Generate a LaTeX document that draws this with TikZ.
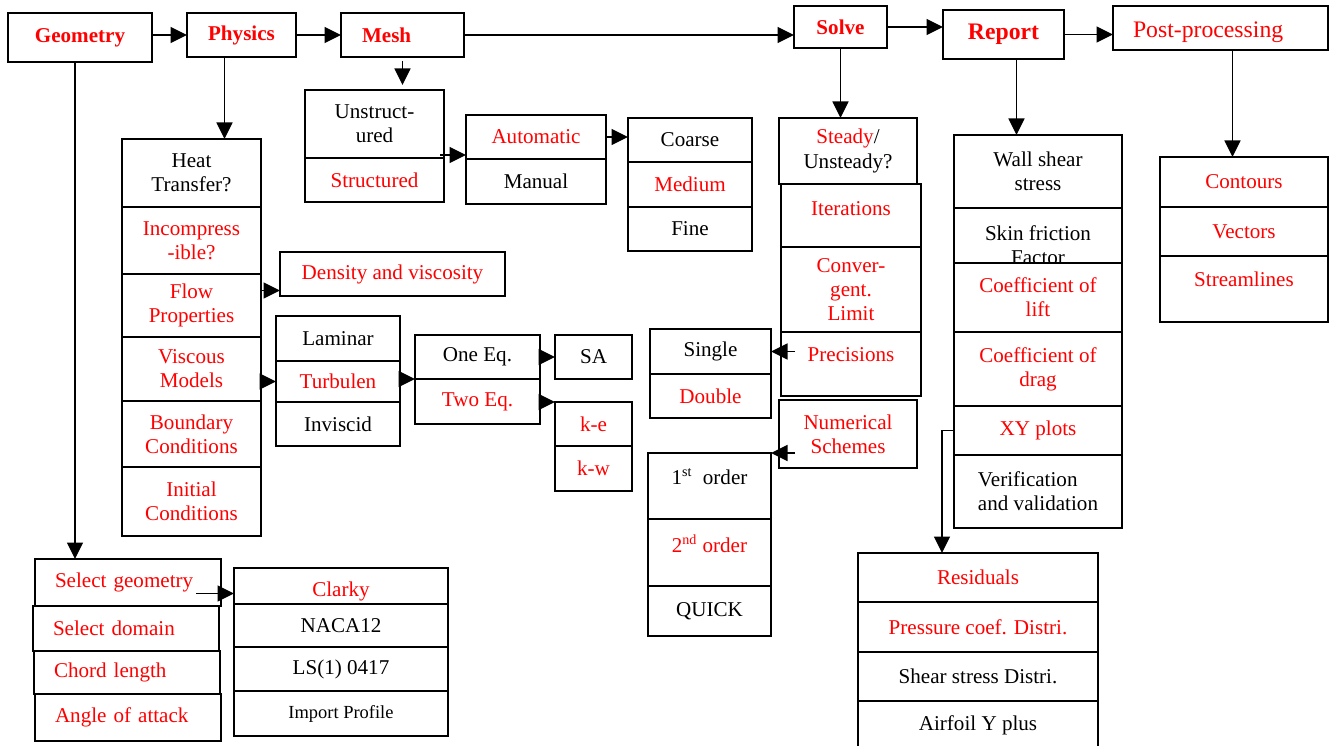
\documentclass[tikz,border=0pt]{standalone}
\usepackage{fontspec}
\setmainfont{Liberation Serif}
\usepackage{tikz}
\usetikzlibrary{positioning, arrows.meta}
\tikzstyle{cell} = [rectangle, draw=black, fill=white, line width=1pt, outer sep=0pt, align=center]
\tikzstyle{redcell} = [cell, text=red]
\tikzstyle{head} = [cell, text=red, font=\fontsize{12}{14}\selectfont\bfseries]
\tikzstyle{geocell} = [redcell, text width=2.92cm, align=left]
\tikzstyle{arrow} = [line width=0.8pt, -{Triangle[length=3.3mm, width=3.2mm]}]
\tikzset{
  wh/.style 2 args={minimum width=#1*0.02cm, minimum height=#2*0.02cm},
  raisetext/.style={text depth=#1},
  droptext/.style={text height=#1}
}

\begin{document}
\begin{tikzpicture}[x=0.02cm, y=0.02cm, font=\fontsize{12}{13.8}\selectfont]
	\useasboundingbox (0,0) rectangle (1330,-746);
	\clip (0,0) rectangle (1330,-746);

	% main steps
	\node (geom) [head, wh={144}{49}] at (80,-37.5) {Geometry};
	\node (phys) [head, wh={109}{44}] at (241.5,-35) {Physics};
	\node (mesh) [head, wh={123}{44}, text width=1.62cm, align=left] at (402.5,-35) {Mesh};
	\node (solve) [head, wh={93}{42}] at (840.5,-27) {Solve};
	\node (report) [head, wh={121}{49}, font=\fontsize{13.5}{15}\selectfont\bfseries] at (1003.5,-34.5) {Report};
	\node (post) [redcell, wh={215}{44}, font=\fontsize{13.5}{15}\selectfont, text width=3.5cm, align=left, inner ysep=0pt, droptext=14pt] at (1220.5,-28) {Post-processing};

	% physics
	\node (heat) [cell, wh={139}{68}] at (191.5,-173) {Heat\\Transfer?};
	\node (incomp) [redcell, wh={139}{67}, below=0pt of heat] {Incompress\\-ible?};
	\node (flow) [redcell, wh={139}{63}, below=0pt of incomp] {Flow\\Properties};
	\node (visc) [redcell, wh={139}{64}, below=0pt of flow] {Viscous\\Models};
	\node (bound) [redcell, wh={139}{66}, below=0pt of visc] {Boundary\\Conditions};
	\node (init) [redcell, wh={139}{69}, below=0pt of bound] {Initial\\Conditions};
	\node (dens) [redcell, wh={225}{44}] at (392.5,-274) {Density and viscosity};

	\node (lam) [cell, wh={124}{45}] at (338,-338.5) {Laminar};
	\node (turb) [redcell, wh={124}{41}, below=0pt of lam] {Turbulen};
	\node (invisc) [cell, wh={124}{44}, below=0pt of turb] {Inviscid};
	\node (oneeq) [cell, wh={125}{44}] at (477.5,-357) {One Eq.};
	\node (twoeq) [redcell, wh={125}{45}, below=0pt of oneeq] {Two Eq.};
	\node (sa) [cell, wh={77}{44}] at (593.5,-357) {SA};
	\node (ke) [redcell, wh={77}{44}] at (593.5,-424) {k-e};
	\node (kw) [redcell, wh={77}{45}, below=0pt of ke] {k-w};

	% mesh
	\node (unstr) [cell, wh={139}{68}] at (374.5,-124) {Unstruct-\\ured};
	\node (struct) [redcell, wh={139}{44}, below=0pt of unstr] {Structured};
	\node (auto) [redcell, wh={140}{44}] at (536,-137) {Automatic};
	\node (manual) [cell, wh={140}{45}, below=0pt of auto] {Manual};
	\node (coarse) [cell, wh={124}{44}] at (690,-140) {Coarse};
	\node (medium) [redcell, wh={124}{45}, below=0pt of coarse] {Medium};
	\node (fine) [cell, wh={124}{44}, below=0pt of medium] {Fine};

	% solve
	\node (steady) [cell, wh={138}{66}] at (848,-151) {\textcolor{red}{Steady}/\\Unsteady?};
	\node (iter) [redcell, wh={140}{63}, below=0pt of steady, xshift=0.06cm, raisetext=8pt] {Iterations};
	\node (conv) [redcell, wh={140}{85}, below=0pt of iter] {Conver-\\gent.\\Limit};
	\node (prec) [redcell, wh={140}{64}, below=0pt of conv, raisetext=11pt] {Precisions};
	\node (num) [redcell, wh={138}{68}] at (848,-434) {Numerical\\Schemes};
	\node (single) [cell, wh={121}{45}] at (710.5,-351.5) {Single};
	\node (double) [redcell, wh={121}{44}, below=0pt of single] {Double};
	\node (first) [cell, wh={123}{66}, raisetext=11pt] at (709.5,-486) {1\textsuperscript{st}~ order};
	\node (second) [redcell, wh={123}{67}, below=0pt of first, raisetext=10pt] {2\textsuperscript{nd} order};
	\node (quick) [cell, wh={123}{50}, below=0pt of second] {QUICK};

	% report
	\node (wall) [cell, wh={168}{73}] at (1038,-171.5) {Wall shear\\stress};
	\node (skin) [cell, wh={168}{75}, below=0pt of wall] {Skin friction\\Factor};
	\node (lift) [redcell, wh={168}{69}, below=-0.4cm of skin] {Coefficient of\\lift};
	\node (drag) [redcell, wh={168}{74}, below=0pt of lift] {Coefficient of\\drag};
	\node (xy) [redcell, wh={168}{49}, below=0pt of drag] {XY plots};
	\node (verif) [cell, wh={168}{73}, below=0pt of xy, align=left] {Verification\\and validation};
	\node (resid) [redcell, wh={240}{49}] at (978,-577.5) {Residuals};
	\node (press) [redcell, wh={240}{50}, below=0pt of resid] {Pressure coef. Distri.};
	\node (shear) [cell, wh={240}{49}, below=0pt of press] {Shear stress Distri.};
	\node (airfoil) [cell, wh={240}{49}, below=0pt of shear] {Airfoil Y plus};

	% post-processing
	\node (cont) [redcell, wh={168}{50}] at (1244,-182) {Contours};
	\node (vect) [redcell, wh={168}{49}, below=0pt of cont] {Vectors};
	\node (stream) [redcell, wh={168}{66}, below=0pt of vect, raisetext=11pt] {Streamlines};

	% geometry
	\node (selgeo) [geocell, wh={186}{47}] at (128,-582.5) {Select geometry};
	\node (seldom) [geocell, wh={186}{45}, below=0pt of selgeo, xshift=-0.04cm] {Select domain};
	\node (chord) [geocell, wh={186}{43}, below=0pt of seldom, xshift=0.02cm] {Chord length};
	\node (angle) [geocell, wh={186}{47}, below=0pt of chord, xshift=0.02cm] {Angle of attack};
	\node (clarky) [redcell, wh={214}{36}, inner ysep=0pt, droptext=15pt] at (341,-586) {Clarky};
	\node (naca) [cell, wh={214}{43}, below=0pt of clarky] {NACA12};
	\node (ls) [cell, wh={214}{44}, below=0pt of naca] {LS(1) 0417};
	\node (import) [cell, wh={214}{45}, below=0pt of ls, font=\fontsize{10.5}{12}\selectfont] {Import Profile};

	\draw [arrow] (geom.east |- phys.west) -- (phys.west);
	\draw [arrow] (phys.east) -- (mesh.west);
	\draw [arrow] (mesh.east) -- (mesh.east -| solve.west);
	\draw [arrow] (solve.east) -- (solve.east -| report.west);
	\draw [arrow] (report.east) -- (report.east -| post.west);

	\draw [arrow] (geom.south) ++(-5,0) coordinate (g) -- (g |- selgeo.north);
	\draw [arrow] (phys.south) ++(-17,0) coordinate (p) -- (p |- heat.north);
	\draw [arrow, shorten <=0.08cm, shorten >=0.1cm] (mesh.south) -- (mesh.south |- unstr.north);
	\draw [arrow] (solve.south) -- (solve.south |- steady.north);
	\draw [arrow] (report.south) ++(13,0) coordinate (r) -- (r |- wall.north);
	\draw [arrow] (post.south) ++(12,0) coordinate (q) -- (q |- cont.north);

	\draw [arrow] (unstr.south east) ++(-4,3) coordinate (u) -- (u -| auto.west);
	\draw [arrow] (auto.east) -- (auto.east -| coarse.west);
	\draw [arrow] (flow.east) ++(0,15) coordinate (f) -- (f -| dens.west);
	\draw [arrow] (visc.east |- turb.west) -- (turb.west);
	\draw [arrow] (turb.east |- oneeq.south) -- (oneeq.south west);
	\draw [arrow] (oneeq.east) -- (sa.west);
	\draw [arrow] (twoeq.east |- ke.north) -- (ke.north west);
	\draw [arrow] (single.east -| prec.west) ++(14,0) coordinate (s) -- (single.east);
	\draw [arrow] (first.north east -| num.west) ++(16,0) coordinate (n) -- (first.north east);
	\draw [arrow] (xy.west) -- ++(-12,0) coordinate (t) -- (t |- resid.north);
	\draw [arrow] (selgeo.east) ++(-25,-11) coordinate (c) -- (c -| clarky.west);
\end{tikzpicture}
\end{document}
